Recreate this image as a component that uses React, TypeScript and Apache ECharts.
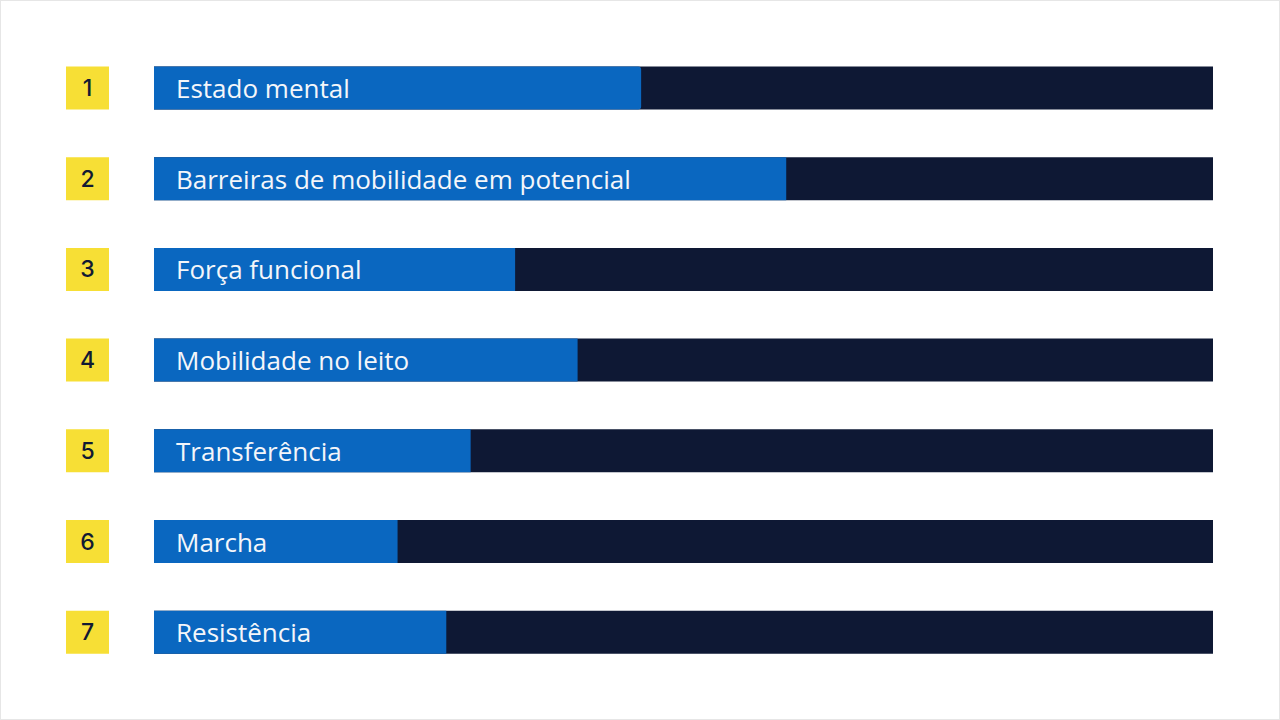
import React, { useEffect, useRef } from "react";
import * as echarts from "echarts";

const categories = [
  "Estado mental",
  "Barreiras de mobilidade em potencial",
  "Força funcional",
  "Mobilidade no leito",
  "Transferência",
  "Marcha",
  "Resistência",
];
const rankLabels = ["1", "2", "3", "4", "5", "6", "7"];
const values = [46, 59.7, 34.1, 40, 29.9, 23, 27.6];
const totals = [100, 100, 100, 100, 100, 100, 100];

export default function App() {
  const ref = useRef<HTMLDivElement>(null);
  useEffect(() => {
    if (!ref.current) return;
    const chart = echarts.init(ref.current, undefined, { renderer: "svg" });
    chart.setOption({
      animation: false,
      backgroundColor: "#ffffff",
      grid: { left: 154, right: 67, top: 42.6, bottom: 42.4, containLabel: false },
      xAxis: {
        type: "value",
        min: 0,
        max: 100,
        show: false,
      },
      yAxis: {
        type: "category",
        inverse: true,
        data: rankLabels,
        axisLine: { show: false },
        axisTick: { show: false },
        splitLine: { show: false },
        axisLabel: {
          margin: 45,
          formatter: (v: string) => `{b|${v}}`,
          rich: {
            b: {
              width: 43,
              height: 43,
              lineHeight: 43,
              align: "center",
              backgroundColor: "#f7df35",
              color: "#111a33",
              fontFamily: "Inter",
              fontWeight: 500,
              fontSize: 23,
            },
          },
        },
      },
      series: [
        {
          type: "bar",
          data: totals,
          barWidth: 43,
          barGap: "-100%",
          itemStyle: { color: "#0e1834" },
          silent: true,
          z: 1,
        },
        {
          type: "bar",
          data: values.map((v, i) => ({
            value: v,
            itemStyle: { borderRadius: i === 0 ? [0, 3, 3, 0] : 0 },
          })),
          barWidth: 43,
          itemStyle: { color: "#0a67c0" },
          z: 2,
          label: {
            show: true,
            position: "insideLeft",
            distance: 22,
            formatter: (p: any) => categories[p.dataIndex],
            color: "#f4f6fa",
            fontFamily: "Open Sans",
            fontSize: 26,
          },
        },
      ],
    });
    return () => chart.dispose();
  }, []);
  return (
    <div
      style={{
        position: "fixed",
        left: 0,
        top: 0,
        width: 1280,
        height: 720,
        background: "#fff",
      }}
    >
      <div ref={ref} style={{ width: 1280, height: 720 }} />
      <div
        style={{
          position: "absolute",
          left: 0,
          top: 0,
          width: 1280,
          height: 720,
          boxSizing: "border-box",
          border: "1px solid #e6e6e6",
          pointerEvents: "none",
        }}
      />
    </div>
  );
}
